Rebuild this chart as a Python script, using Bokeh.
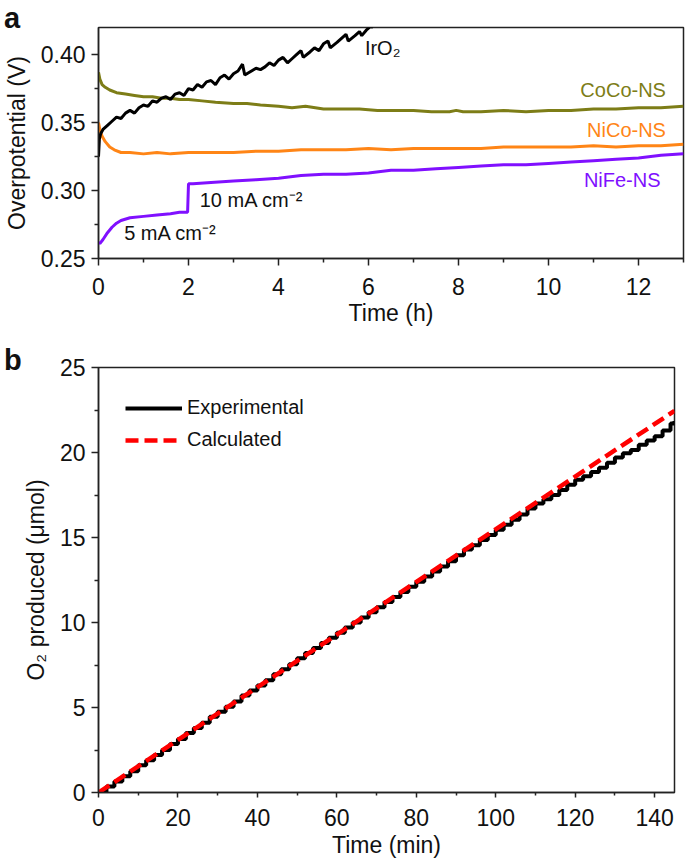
from bokeh.plotting import figure
from bokeh.models import Range1d, FixedTicker, PrintfTickFormatter, Label, Legend, LegendItem, Div
from bokeh.layouts import column
from bokeh.embed import file_html
from bokeh.resources import INLINE

FONT = "Liberation Sans"

# ---------------- Panel a data ----------------
iro2_t = [0.00, 0.02, 0.05, 0.10, 0.20, 0.30, 0.40, 0.50, 0.60, 0.70, 0.80, 0.90, 1.00, 1.10, 1.20,
          1.30, 1.40, 1.50, 1.60, 1.70, 1.80, 1.90, 2.00, 2.10, 2.20, 2.30, 2.40, 2.50, 2.60, 2.70,
          2.80, 2.90, 3.00, 3.10, 3.20, 3.25, 3.40, 3.50, 3.60, 3.70, 3.80, 3.90, 4.00, 4.10, 4.20,
          4.30, 4.40, 4.50, 4.55, 4.70, 4.80, 4.90, 5.00, 5.10, 5.15, 5.30, 5.40, 5.50, 5.55, 5.70,
          5.80, 5.85, 5.95, 6.05, 6.10]
iro2_v = [0.325, 0.338, 0.342, 0.345, 0.348, 0.351, 0.354, 0.353, 0.357, 0.359, 0.357, 0.361, 0.363, 0.362, 0.366,
          0.365, 0.368, 0.369, 0.367, 0.371, 0.372, 0.370, 0.375, 0.374, 0.378, 0.376, 0.380, 0.381, 0.378, 0.383,
          0.385, 0.382, 0.386, 0.388, 0.393, 0.385, 0.388, 0.390, 0.389, 0.391, 0.394, 0.392, 0.396, 0.398, 0.394,
          0.397, 0.400, 0.403, 0.398, 0.402, 0.405, 0.403, 0.408, 0.410, 0.405, 0.409, 0.412, 0.415, 0.410, 0.414,
          0.417, 0.414, 0.418, 0.421, 0.420]

coco_t = [0.00, 0.03, 0.08, 0.15, 0.25, 0.40, 0.60, 0.80, 1.00, 1.20, 1.40, 1.60, 1.80, 2.00, 2.30,
          2.60, 3.00, 3.30, 3.60, 4.00, 4.30, 4.60, 5.00, 5.40, 5.80, 6.20, 6.60, 7.00, 7.40, 7.80,
          7.95, 8.10, 8.50, 9.00, 9.50, 10.00, 10.50, 11.00, 11.50, 12.00, 12.50, 13.00]
coco_v = [0.387, 0.382, 0.378, 0.376, 0.374, 0.372, 0.371, 0.370, 0.369, 0.369, 0.368, 0.368, 0.367, 0.367, 0.366,
          0.365, 0.364, 0.364, 0.363, 0.362, 0.361, 0.362, 0.360, 0.360, 0.360, 0.359, 0.359, 0.359, 0.358, 0.358,
          0.359, 0.358, 0.358, 0.359, 0.358, 0.359, 0.359, 0.360, 0.360, 0.361, 0.361, 0.362]

nico_t = [0.00, 0.03, 0.08, 0.15, 0.25, 0.35, 0.50, 0.70, 1.00, 1.30, 1.60, 2.00, 2.50, 3.00, 3.50,
          4.00, 4.50, 5.00, 5.50, 6.00, 6.50, 7.00, 7.50, 8.00, 8.50, 9.00, 9.50, 10.00, 10.50, 11.00,
          11.50, 12.00, 12.50, 13.00]
nico_v = [0.350, 0.345, 0.340, 0.336, 0.332, 0.330, 0.328, 0.328, 0.327, 0.328, 0.327, 0.328, 0.328, 0.328, 0.329,
          0.329, 0.330, 0.330, 0.330, 0.331, 0.330, 0.331, 0.331, 0.331, 0.331, 0.332, 0.332, 0.332, 0.332, 0.333,
          0.332, 0.333, 0.333, 0.334]

nife_t = [0.00, 0.03, 0.10, 0.20, 0.30, 0.40, 0.50, 0.70, 1.00, 1.30, 1.60, 1.80, 1.98, 2.00, 2.10,
          2.50, 3.00, 3.50, 4.00, 4.50, 5.00, 5.50, 6.00, 6.50, 7.00, 7.50, 8.00, 8.50, 9.00, 9.50,
          10.00, 10.50, 11.00, 11.50, 12.00, 12.50, 13.00]
nife_v = [0.262, 0.261, 0.264, 0.269, 0.273, 0.276, 0.278, 0.280, 0.281, 0.282, 0.283, 0.284, 0.284, 0.305, 0.305,
          0.306, 0.307, 0.308, 0.309, 0.311, 0.312, 0.312, 0.313, 0.315, 0.315, 0.316, 0.317, 0.318, 0.319, 0.319,
          0.320, 0.321, 0.322, 0.323, 0.324, 0.326, 0.327]

a_xticks = [0, 2, 4, 6, 8, 10, 12]
a_xminor = [1, 3, 5, 7, 9, 11, 13]
a_yticks = [0.25, 0.30, 0.35, 0.40]
a_yminor = [0.275, 0.325, 0.375]

# ---------------- Panel b data ----------------
exp_t = [0, 2, 4, 6, 8, 10, 12, 14, 16, 18, 20, 22, 24, 26, 28, 30, 32, 34, 36, 38, 40, 42, 44, 46, 48,
         50, 52, 54, 56, 58, 60, 62, 64, 66, 68, 70, 72, 74, 76, 78, 80, 82, 84, 86, 88, 90, 92, 94, 96, 98,
         100, 102, 104, 106, 108, 110, 112, 114, 116, 118, 120, 122, 124, 126, 128, 130, 132, 134, 136, 138,
         140, 142, 144, 145]
exp_o2 = [0.0, 0.35, 0.65, 0.95, 1.25, 1.6, 1.9, 2.2, 2.5, 2.85, 3.15, 3.5, 3.8, 4.1, 4.45, 4.75, 5.05, 5.35,
          5.7, 6.0, 6.3, 6.6, 6.95, 7.25, 7.55, 7.9, 8.2, 8.5, 8.8, 9.1, 9.4, 9.7, 10.0, 10.3, 10.6, 10.9, 11.2,
          11.5, 11.8, 12.1, 12.4, 12.7, 13.0, 13.3, 13.6, 13.95, 14.3, 14.55, 14.85, 15.15, 15.45, 15.75, 16.05,
          16.35, 16.7, 17.0, 17.25, 17.5, 17.8, 18.1, 18.4, 18.6, 18.85, 19.1, 19.4, 19.7, 19.95, 20.15, 20.45,
          20.7, 20.95, 21.3, 21.7, 21.85]
calc_t = [0, 145]
calc_o2 = [0.0, 22.45]

b_xticks = [0, 20, 40, 60, 80, 100, 120, 140]
b_xminor = [10, 30, 50, 70, 90, 110, 130]
b_yticks = [0, 5, 10, 15, 20, 25]
b_yminor = [2.5, 7.5, 12.5, 17.5, 22.5]

OLIVE = "#7d7d17"
ORANGE = "#ff8516"
PURPLE = "#8010ff"
INK = "#111111"


def style(p, xticks, xminor, yticks, yminor, yfmt=None):
    p.outline_line_color = "#222222"
    p.outline_line_width = 1.5
    p.border_fill_alpha = 0
    p.xgrid.grid_line_color = None
    p.ygrid.grid_line_color = None
    p.xaxis.ticker = FixedTicker(ticks=xticks, minor_ticks=xminor)
    p.yaxis.ticker = FixedTicker(ticks=yticks, minor_ticks=yminor)
    if yfmt:
        p.yaxis.formatter = PrintfTickFormatter(format=yfmt)
    for ax in (p.xaxis[0], p.yaxis[0]):
        ax.axis_line_color = "#222222"
        ax.axis_line_width = 1.5
        ax.major_tick_line_color = "#222222"
        ax.minor_tick_line_color = "#222222"
        ax.major_tick_line_width = 1.5
        ax.minor_tick_line_width = 1.5
        ax.major_tick_out = 7
        ax.major_tick_in = 0
        ax.minor_tick_out = 4
        ax.minor_tick_in = 0
        ax.major_label_text_font = FONT
        ax.major_label_text_font_size = "23px"
        ax.major_label_text_color = INK
        ax.axis_label_text_font = FONT
        ax.axis_label_text_font_size = "23px"
        ax.axis_label_text_font_style = "normal"
        ax.axis_label_text_color = INK
        ax.major_label_standoff = 6
    p.yaxis.axis_label_standoff = 8


def lab(p, x, y, text, color=INK, align="left"):
    p.add_layout(Label(x=x, y=y, text=text, text_color=color, text_align=align, text_baseline="middle",
                       text_font=FONT, text_font_size="20px"))


def panel_letter(letter, height, line_height):
    return Div(text=letter, width=40, height=height,
               styles={"font-family": FONT, "font-size": "29px", "font-weight": "bold",
                       "line-height": line_height, "padding-left": "4px", "overflow": "visible",
                       "color": INK, "margin": "0"})


# ---------------- Panel a ----------------
div_a = panel_letter("a", 20, "36px")
pa = figure(width=685, height=310, title=None, x_range=Range1d(0, 13), y_range=Range1d(0.25, 0.42),
            output_backend="svg", toolbar_location=None,
            min_border_left=96, min_border_right=2, min_border_top=7, min_border_bottom=72)
style(pa, a_xticks, a_xminor, a_yticks, a_yminor, "%.2f")
pa.xaxis.major_label_standoff = 12
pa.xaxis.axis_label_standoff = 2
pa.xaxis.axis_label = "Time (h)"
pa.yaxis.axis_label = "Overpotential (V)"

pa.line(nife_t, nife_v, line_color=PURPLE, line_width=3)
pa.line(nico_t, nico_v, line_color=ORANGE, line_width=3)
pa.line(coco_t, coco_v, line_color=OLIVE, line_width=3)
pa.line(iro2_t, iro2_v, line_color="black", line_width=3)

lab(pa, 5.92, 0.405, "IrO₂")
lab(pa, 12.61, 0.3742, "CoCo-NS", OLIVE, "right")
lab(pa, 12.61, 0.3447, "NiCo-NS", ORANGE, "right")
lab(pa, 12.49, 0.3080, "NiFe-NS", PURPLE, "right")
lab(pa, 2.25, 0.2930, "10 mA cm⁻²")
lab(pa, 0.57, 0.2685, "5 mA cm⁻²")

# ---------------- Panel b ----------------
div_b = panel_letter("b", 23, "60px")
pb = figure(width=676, height=507, title=None, x_range=Range1d(0, 145), y_range=Range1d(0, 25),
            output_backend="svg", toolbar_location=None,
            min_border_left=96, min_border_right=2, min_border_top=14, min_border_bottom=67)
style(pb, b_xticks, b_xminor, b_yticks, b_yminor)
pb.xaxis.major_tick_out = 5
pb.xaxis.minor_tick_out = 3
pb.xaxis.major_label_standoff = 11
pb.xaxis.axis_label_standoff = 3
pb.xaxis.axis_label = "Time (min)"
pb.yaxis.axis_label = "O₂ produced (μmol)"

r_exp = pb.step(exp_t, exp_o2, mode="after", line_color="black", line_width=4)
r_calc = pb.line(calc_t, calc_o2, line_color="#ff0000", line_width=4.5, line_dash="13 6")

leg = Legend(items=[LegendItem(label="Experimental", renderers=[r_exp]),
                    LegendItem(label="Calculated", renderers=[r_calc])],
             location=(27, 341), glyph_width=57, glyph_height=20, label_standoff=5, spacing=9,
             padding=0, margin=0, border_line_alpha=0, background_fill_alpha=0,
             label_text_font=FONT, label_text_font_size="20px", label_text_color=INK)
pb.add_layout(leg)

layout = column(div_a, pa, div_b, pb, spacing=0)
open("out.html", "w").write(file_html(layout, INLINE))
